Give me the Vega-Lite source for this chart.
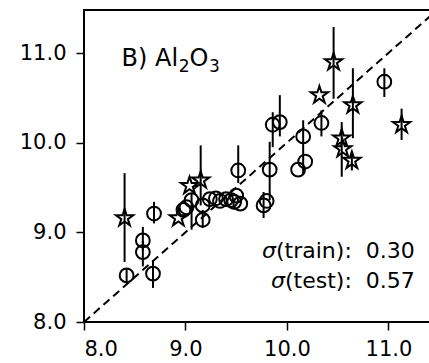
{
  "$schema": "https://vega.github.io/schema/vega-lite/v6.json",
  "width": 346,
  "height": 312,
  "autosize": {"type": "none"},
  "padding": {"left": 84, "top": 10, "right": 0, "bottom": 41},
  "config": {
    "view": {"stroke": "black", "strokeWidth": 2},
    "axis": {
      "domain": false,
      "grid": false,
      "labelFont": "DejaVu Sans",
      "labelFontSize": 21,
      "labelColor": "black",
      "tickColor": "black",
      "tickWidth": 1.5,
      "tickSize": 8,
      "title": null
    }
  },
  "data": {
    "values": [
      {"k": "train", "x": 8.42, "y": 8.52, "lo": 8.43, "hi": 8.60},
      {"k": "train", "x": 8.58, "y": 8.91, "lo": 8.80, "hi": 9.06},
      {"k": "train", "x": 8.58, "y": 8.78, "lo": 8.62, "hi": 8.90},
      {"k": "train", "x": 8.68, "y": 8.54, "lo": 8.38, "hi": 8.69},
      {"k": "train", "x": 8.69, "y": 9.21, "lo": 9.10, "hi": 9.34},
      {"k": "train", "x": 8.98, "y": 9.25},
      {"k": "train", "x": 9.01, "y": 9.28},
      {"k": "train", "x": 9.06, "y": 9.36, "lo": 9.03, "hi": 9.44},
      {"k": "train", "x": 9.17, "y": 9.14, "lo": 9.05, "hi": 9.25},
      {"k": "train", "x": 9.17, "y": 9.30},
      {"k": "train", "x": 9.24, "y": 9.37},
      {"k": "train", "x": 9.30, "y": 9.38},
      {"k": "train", "x": 9.34, "y": 9.35},
      {"k": "train", "x": 9.40, "y": 9.37},
      {"k": "train", "x": 9.45, "y": 9.36},
      {"k": "train", "x": 9.50, "y": 9.41},
      {"k": "train", "x": 9.54, "y": 9.32},
      {"k": "train", "x": 9.48, "y": 9.34},
      {"k": "train", "x": 9.52, "y": 9.69, "lo": 9.55, "hi": 9.97},
      {"k": "train", "x": 9.77, "y": 9.30, "lo": 9.16, "hi": 9.45},
      {"k": "train", "x": 9.80, "y": 9.35},
      {"k": "train", "x": 9.83, "y": 9.70, "lo": 9.36, "hi": 10.01},
      {"k": "train", "x": 9.86, "y": 10.20, "lo": 9.95, "hi": 10.34},
      {"k": "train", "x": 9.93, "y": 10.23, "lo": 10.07, "hi": 10.53},
      {"k": "train", "x": 10.11, "y": 9.70},
      {"k": "train", "x": 10.16, "y": 10.07, "lo": 9.64, "hi": 10.25},
      {"k": "train", "x": 10.18, "y": 9.79},
      {"k": "train", "x": 10.34, "y": 10.22, "lo": 10.07, "hi": 10.36},
      {"k": "train", "x": 10.96, "y": 10.68, "lo": 10.51, "hi": 10.83},
      {"k": "test", "x": 8.40, "y": 9.16, "lo": 8.67, "hi": 9.66},
      {"k": "test", "x": 8.93, "y": 9.16},
      {"k": "test", "x": 9.04, "y": 9.52},
      {"k": "test", "x": 9.15, "y": 9.58, "lo": 9.30, "hi": 9.97},
      {"k": "test", "x": 10.32, "y": 10.53},
      {"k": "test", "x": 10.46, "y": 10.90, "lo": 10.49, "hi": 11.29},
      {"k": "test", "x": 10.65, "y": 10.42, "lo": 10.05, "hi": 10.83},
      {"k": "test", "x": 11.13, "y": 10.20, "lo": 10.03, "hi": 10.38},
      {"k": "test", "x": 10.54, "y": 10.05, "lo": 9.62, "hi": 10.23},
      {"k": "test", "x": 10.55, "y": 9.93},
      {"k": "test", "x": 10.64, "y": 9.80, "lo": 9.69, "hi": 9.90},
      {"k": "diag", "x": 8.0, "y": 8.0},
      {"k": "diag", "x": 11.41, "y": 11.41},
      {"k": "tl", "x": 8.37, "y": 10.85, "t": "B) Al"},
      {"k": "tl", "x": 9.04, "y": 10.85, "t": "O"},
      {"k": "sub", "x": 8.935, "y": 10.794, "t": "2"},
      {"k": "sub", "x": 9.232, "y": 10.794, "t": "3"},
      {"k": "sig", "x": 9.891, "y": 8.71, "t": "σ"},
      {"k": "sig", "x": 9.98, "y": 8.38, "t": "σ"},
      {"k": "tr", "x": 11.26, "y": 8.71, "t": "(train):\u00a0\u00a00.30"},
      {"k": "tr", "x": 11.26, "y": 8.38, "t": "(test):\u00a0\u00a00.57"}
    ]
  },
  "encoding": {
    "x": {"field": "x", "type": "quantitative", "scale": {"domain": [8, 11.41], "nice": false, "zero": false},
          "axis": {"values": [8, 9, 10, 11], "format": ".1f", "labelPadding": 8}},
    "y": {"field": "y", "type": "quantitative", "scale": {"domain": [8, 11.48], "nice": false, "zero": false},
          "axis": {"values": [8, 9, 10, 11], "format": ".1f", "labelPadding": 10}}
  },
  "layer": [
    {
      "transform": [{"filter": "datum.k == 'diag'"}],
      "mark": {"type": "line", "color": "black", "strokeWidth": 2, "strokeDash": [8, 5], "clip": true}
    },
    {
      "transform": [{"filter": "isValid(datum.lo)"}],
      "mark": {"type": "rule", "color": "black", "strokeWidth": 2},
      "encoding": {
        "y": {"field": "lo", "type": "quantitative"},
        "y2": {"field": "hi"}
      }
    },
    {
      "transform": [{"filter": "datum.k == 'train'"}],
      "mark": {"type": "point", "shape": "circle", "filled": false, "color": "black", "strokeWidth": 2, "size": 190, "opacity": 1}
    },
    {
      "transform": [{"filter": "datum.k == 'test'"}],
      "mark": {"type": "point", "shape": "M0,-1L0.2245,-0.309L0.951,-0.309L0.363,0.118L0.588,0.809L0,0.382L-0.588,0.809L-0.363,0.118L-0.951,-0.309L-0.2245,-0.309Z", "filled": false, "color": "black", "strokeWidth": 2, "strokeJoin": "miter", "size": 330, "opacity": 1}
    },
    {
      "transform": [{"filter": "datum.k == 'tl'"}],
      "mark": {"type": "text", "font": "DejaVu Sans", "fontSize": 24, "color": "black", "baseline": "alphabetic", "align": "left"},
      "encoding": {"text": {"field": "t", "type": "nominal"}}
    },
    {
      "transform": [{"filter": "datum.k == 'sub'"}],
      "mark": {"type": "text", "font": "DejaVu Sans", "fontSize": 17, "color": "black", "baseline": "alphabetic", "align": "left"},
      "encoding": {"text": {"field": "t", "type": "nominal"}}
    },
    {
      "transform": [{"filter": "datum.k == 'sig'"}],
      "mark": {"type": "text", "font": "DejaVu Sans", "fontStyle": "italic", "fontSize": 22, "color": "black", "baseline": "alphabetic", "align": "right"},
      "encoding": {"text": {"field": "t", "type": "nominal"}}
    },
    {
      "transform": [{"filter": "datum.k == 'tr'"}],
      "mark": {"type": "text", "font": "DejaVu Sans", "fontSize": 22, "color": "black", "baseline": "alphabetic", "align": "right"},
      "encoding": {"text": {"field": "t", "type": "nominal"}}
    }
  ]
}
